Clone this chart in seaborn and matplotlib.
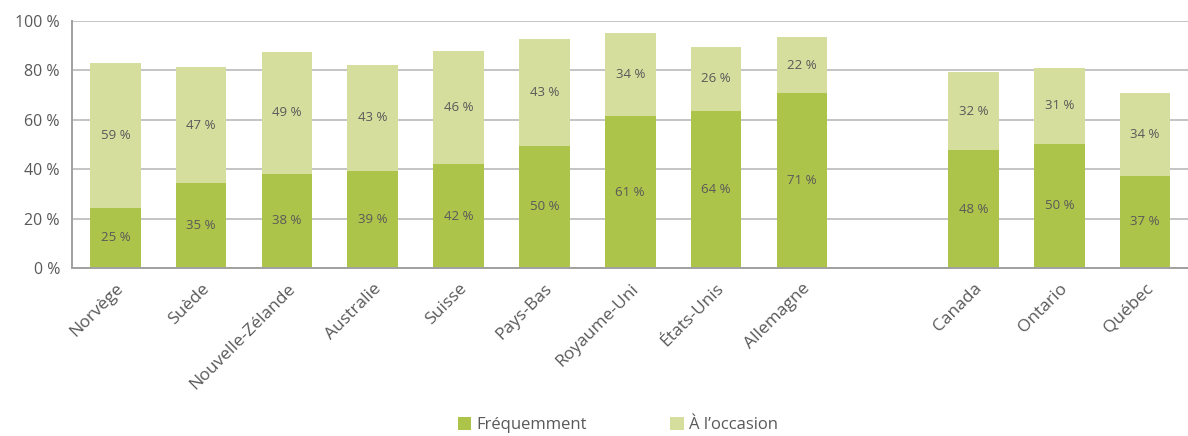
import numpy as np
import pandas as pd
import matplotlib
matplotlib.use("Agg")
import matplotlib.pyplot as plt
import seaborn as sns

# Data (the blank " " slot is the gap before Canada)
categories = ["Norvège", "Suède", "Nouvelle-Zélande", "Australie", "Suisse", "Pays-Bas",
              "Royaume-Uni", "États-Unis", "Allemagne", " ", "Canada", "Ontario", "Québec"]
frequemment = [24.5, 34.6, 38.2, 39.4, 42.0, 49.5, 61.4, 63.6, 70.8, np.nan, 47.6, 50.3, 37.4]
occasion = [58.6, 46.6, 49.4, 42.8, 45.8, 43.0, 33.8, 26.0, 22.6, np.nan, 31.8, 30.8, 33.6]
freq_labels = ["25 %", "35 %", "38 %", "39 %", "42 %", "50 %", "61 %", "64 %", "71 %", "",
               "48 %", "50 %", "37 %"]
occ_labels = ["59 %", "47 %", "49 %", "43 %", "46 %", "43 %", "34 %", "26 %", "22 %", "",
              "32 %", "31 %", "34 %"]

DARK = "#adc44b"
LIGHT = "#d6de9e"
TXT = "#595959"

df = pd.DataFrame({"pays": categories, "freq": frequemment, "occ": occasion})
df["total"] = df["freq"] + df["occ"]

sns.set_theme(style="white")
plt.rcParams["font.family"] = ["Open Sans", "DejaVu Sans"]

fig = plt.figure(figsize=(11.88, 4.36), dpi=100)
ax = fig.add_axes([0.061, 0.385, 0.939, 0.567])

ax.set_axisbelow(True)
ax.yaxis.grid(True, color="#c4c4c4", linewidth=1.4)

sns.barplot(data=df, x="pays", y="total", order=categories, color=LIGHT,
            width=0.59, saturation=1, ax=ax, label="À l’occasion", linewidth=0)
sns.barplot(data=df, x="pays", y="freq", order=categories, color=DARK,
            width=0.59, saturation=1, ax=ax, label="Fréquemment", linewidth=0)

# value labels centred in each segment
for i, row in df.iterrows():
    if np.isnan(row["freq"]):
        continue
    ax.text(i, row["freq"] / 2, freq_labels[i], ha="center", va="center",
            fontsize=9.5, color=TXT)
    ax.text(i, row["freq"] + row["occ"] / 2, occ_labels[i], ha="center", va="center",
            fontsize=9.5, color=TXT)

ax.set_xlim(-0.5, len(categories) - 0.5)
ax.set_ylim(0, 100)
ax.set_yticks(range(0, 101, 20))
ax.set_yticklabels([f"{v} %" for v in range(0, 101, 20)], fontsize=11.5, color=TXT)
ax.set_xticks(range(len(categories)))
ax.set_xticklabels(categories, rotation=45, ha="right", rotation_mode="anchor",
                   fontsize=12.5, color=TXT)
ax.set_xticks(np.arange(-0.5, len(categories) - 0.5, 1), minor=True)
ax.tick_params(axis="x", which="major", length=0, pad=9)
ax.tick_params(axis="x", which="minor", length=5, width=1.4, color="#a0a0a0", direction="out")
ax.tick_params(axis="y", length=5, width=1.4, color="#a0a0a0", direction="out", pad=4)
ax.set_xlabel("")
ax.set_ylabel("")

for side in ["top", "right"]:
    ax.spines[side].set_visible(False)
for side in ["left", "bottom"]:
    ax.spines[side].set_color("#a0a0a0")
    ax.spines[side].set_linewidth(1.4)

handles, labels = ax.get_legend_handles_labels()
order = [labels.index("Fréquemment"), labels.index("À l’occasion")]
leg = fig.legend([handles[k] for k in order], [labels[k] for k in order],
                 loc="center", bbox_to_anchor=(0.52, 0.025), ncol=2, frameon=False,
                 fontsize=12, handlelength=0.8, handleheight=0.8, handletextpad=0.3,
                 columnspacing=5)
for t in leg.get_texts():
    t.set_color(TXT)
if ax.get_legend() is not None:
    ax.get_legend().remove()

fig.savefig("out.png", dpi=100)
